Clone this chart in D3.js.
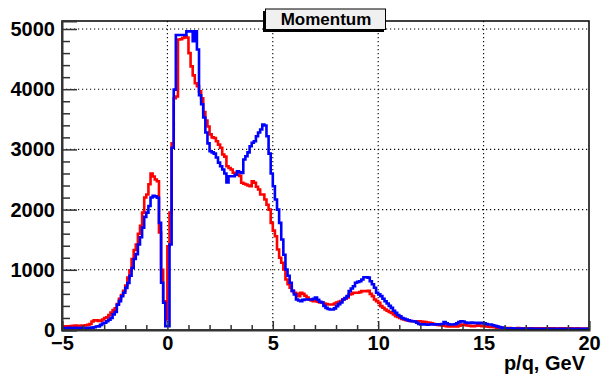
<!DOCTYPE html>
<html>
<head>
<meta charset="utf-8">
<script src="https://cdn.jsdelivr.net/npm/d3@7"></script>
<style>
  body { margin: 0; background: #fff; }
  svg { display: block; font-family: "Liberation Sans", Arial, sans-serif; }
</style>
</head>
<body>
<svg width="601" height="382"></svg>
<script>
// histogram: 250 bins of 0.1 GeV from -5 to 20
var binLow = -5, binWidth = 0.1;

var redCounts = [
  55,60,58,62,65,70,72,68,70,72,
  75,80,85,100,140,160,160,150,155,175,
  200,210,250,290,330,360,430,520,580,650,
  740,870,990,1180,1330,1420,1600,1730,1950,2200,
  2250,2420,2600,2550,2500,2470,1620,1000,478,174,
  1392,1950,3100,3850,3880,4826,4830,4850,4880,4860,
  4600,4380,4230,4100,4050,3967,3850,3620,3480,3380,
  3250,3200,3190,3136,3080,3027,2915,2880,2721,2690,
  2666,2611,2600,2583,2560,2445,2430,2417,2400,2389,
  2472,2445,2380,2334,2251,2251,2168,2080,2000,1780,
  1650,1558,1337,1200,1116,1005,839,760,701,650,
  618,600,562,618,600,570,540,507,490,478,
  480,470,456,456,440,430,423,423,423,440,
  456,467,480,507,525,540,590,600,618,618,
  618,630,645,645,645,650,600,562,507,480,
  451,396,370,340,320,300,285,260,229,215,
  202,185,175,163,160,150,146,146,140,146,
  140,135,130,125,120,110,100,90,85,80,
  75,70,65,60,58,58,60,60,70,85,
  90,80,75,70,65,63,70,80,70,65,
  63,60,55,50,50,45,40,40,38,36,
  32,30,34,30,28,30,32,28,30,27,
  28,30,26,28,30,25,27,29,26,28,
  27,25,28,30,26,24,27,25,28,26,
  25,27,24,26,28,25,23,26,24,25
];

var blueCounts = [
  30,32,30,35,30,32,35,33,30,35,
  30,32,35,35,40,45,58,60,85,108,
  120,146,170,202,260,300,420,480,560,620,
  700,780,900,1030,1180,1260,1420,1540,1700,1880,
  1950,2060,2200,2230,2220,2196,1780,784,452,63,
  63,1420,3027,3993,4900,4900,4900,4900,4900,4960,
  4960,4960,4797,4960,4660,3900,3750,3530,3281,3100,
  2970,2950,2930,2865,2780,2721,2666,2600,2450,2555,
  2555,2555,2580,2638,2620,2610,2832,2887,2950,3053,
  3110,3136,3219,3280,3330,3414,3397,3219,2930,2600,
  2389,2168,2000,1780,1503,1250,1005,900,784,650,
  590,507,490,478,500,507,507,507,507,520,
  540,500,470,456,400,368,350,340,340,360,
  396,430,456,507,530,562,645,690,728,784,
  800,811,839,877,877,870,811,760,701,620,
  591,562,520,478,440,400,368,320,285,250,
  229,200,185,174,160,150,146,140,120,100,
  91,95,91,88,91,95,91,93,91,95,
  100,130,110,95,91,91,95,110,130,146,
  140,125,119,119,125,119,119,115,119,115,
  110,100,91,91,80,70,60,50,40,36,
  28,26,25,27,24,22,25,23,22,24,
  22,20,23,21,22,20,19,21,22,20,
  20,18,21,19,20,18,19,20,17,19,
  18,20,17,19,18,17,18,19,17,18
];

var xMajor = [-5, 0, 5, 10, 15, 20];
var xMinor = d3.range(-5, 21, 1).filter(v => xMajor.indexOf(v) < 0);
var yMajor = [0, 1000, 2000, 3000, 4000, 5000];
var yMinor = d3.range(0, 5001, 200).filter(v => v % 1000 !== 0);
var title = "Momentum";
var xTitle = "p/q, GeV";

var svg = d3.select("svg");
var L = 62, R = 589, T = 21, B = 330;

var x = d3.scaleLinear().domain([-5, 20]).range([L, R]);
var y = d3.scaleLinear().domain([0, 5133]).range([B, T]);

// grid
var grid = svg.append("g").attr("stroke", "#000").attr("stroke-width", 1.1)
  .attr("stroke-dasharray", "1.2,2.8");
grid.selectAll(".gx").data(xMajor.slice(1, -1)).enter().append("line")
  .attr("x1", d => x(d)).attr("x2", d => x(d)).attr("y1", T).attr("y2", B);
grid.selectAll(".gy").data(yMajor.slice(1)).enter().append("line")
  .attr("x1", L).attr("x2", R).attr("y1", d => y(d)).attr("y2", d => y(d));

// histograms
function steps(counts) {
  var pts = counts.map((c, i) => [binLow + i * binWidth, c]);
  pts.push([binLow + counts.length * binWidth, counts[counts.length - 1]]);
  return pts;
}
var lineMaker = d3.line()
  .x(d => x(d[0]))
  .y(d => y(d[1]))
  .curve(d3.curveStepAfter);

svg.append("path").attr("fill", "none").attr("stroke", "#ff0000")
  .attr("stroke-width", 2.6).attr("d", lineMaker(steps(redCounts)));
svg.append("path").attr("fill", "none").attr("stroke", "#0000ff")
  .attr("stroke-width", 2.6).attr("d", lineMaker(steps(blueCounts)));

// frame
svg.append("rect").attr("x", L).attr("y", T).attr("width", R - L).attr("height", B - T)
  .attr("fill", "none").attr("stroke", "#000").attr("stroke-width", 1.5);

// y axis
var yAx = svg.append("g").attr("transform", "translate(" + L + ",0)")
  .call(d3.axisLeft(y).tickValues(yMajor).tickSize(-15).tickPadding(7).tickFormat(d3.format("d")));
svg.append("g").attr("transform", "translate(" + L + ",0)")
  .call(d3.axisLeft(y).tickValues(yMinor).tickSize(-8).tickFormat(""))
  .call(g => g.select(".domain").remove());

// x axis
var xAx = svg.append("g").attr("transform", "translate(0," + B + ")")
  .call(d3.axisBottom(x).tickValues(xMajor).tickSize(-9).tickPadding(6).tickFormat(d3.format("d")));
svg.append("g").attr("transform", "translate(0," + B + ")")
  .call(d3.axisBottom(x).tickValues(xMinor).tickSize(-5).tickFormat(""))
  .call(g => g.select(".domain").remove());

svg.selectAll(".domain").attr("stroke", "#333").attr("stroke-width", 2);
svg.selectAll(".tick line").attr("stroke", "#333").attr("stroke-width", 1.5);
svg.selectAll(".tick text").attr("fill", "#000")
  .style("font-family", "'Liberation Sans', Arial, sans-serif")
  .style("font-size", "20px").style("font-weight", "bold");

// axis title
svg.append("text").attr("x", 585).attr("y", 370).attr("text-anchor", "end")
  .style("font-size", "20px").style("font-weight", "bold").text(xTitle);

// title box with shadow
var tb = svg.append("g");
tb.append("rect").attr("x", 263).attr("y", 11).attr("width", 121).attr("height", 21).attr("fill", "#000");
tb.append("rect").attr("x", 265.5).attr("y", 9).attr("width", 120).attr("height", 20.5)
  .attr("fill", "#f0f0f0").attr("stroke", "#000").attr("stroke-width", 1);
tb.append("text").attr("x", 326).attr("y", 25).attr("text-anchor", "middle")
  .style("font-size", "17px").style("font-weight", "bold").text(title);
</script>
</body>
</html>
